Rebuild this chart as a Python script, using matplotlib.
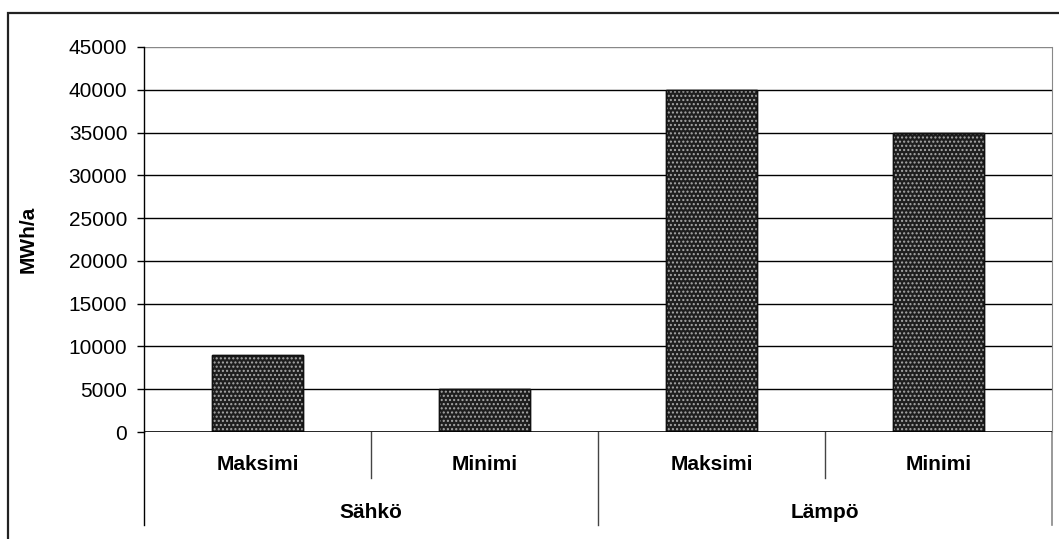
import matplotlib.pyplot as plt
import matplotlib.transforms as mtransforms
from matplotlib.patches import Rectangle

plt.rcParams['font.family'] = ['Liberation Sans', 'DejaVu Sans']
plt.rcParams['hatch.linewidth'] = 1.0

groups = ['Sähkö', 'Lämpö']
subcats = ['Maksimi', 'Minimi', 'Maksimi', 'Minimi']
values = [9000, 5000, 40000, 35000]
yticks = [0, 5000, 10000, 15000, 20000, 25000, 30000, 35000, 40000, 45000]

fig = plt.figure(figsize=(10.59, 5.39), dpi=100)
ax = fig.add_axes([144/1059, 1 - 432/539, (1052 - 144)/1059, (432 - 47)/539])

# outer chart frame
fig.patches.append(Rectangle((8/1059, -0.1), 1.2, 1 - 13/539 + 0.1,
                             transform=fig.transFigure, fill=False,
                             edgecolor='#222222', lw=1.6))

x = list(range(len(values)))
ax.bar(x, values, width=0.4, color='#1e1e1e', edgecolor='black', lw=1, zorder=3)
ax.bar(x, values, width=0.4, fill=False, hatch='....', edgecolor='#a8a8a8', lw=0, zorder=4)
ax.bar(x, values, width=0.4, fill=False, edgecolor='#111111', lw=1, zorder=5)

ax.set_xlim(-0.5, len(values) - 0.5)
ax.set_ylim(0, 45000)
ax.set_yticks(yticks)
ax.set_yticklabels([str(v) for v in yticks], fontsize=15)
ax.tick_params(axis='y', length=5, width=1, pad=7, direction='out')
ax.set_xticks([])
for v in yticks[1:]:
    ax.axhline(v, color='black' if v < 45000 else '#888888', lw=1, zorder=1)

ax.spines['top'].set_visible(False)
ax.spines['right'].set_color('#888888')
ax.spines['bottom'].set_visible(False)
ax.spines['left'].set_linewidth(1)
ax.axhline(0, color='black', lw=1.2, zorder=6)

ax.set_ylabel('MWh/a', fontsize=15, fontweight='bold')
ax.yaxis.set_label_coords(-106/908, 0.5)

# two-level category axis below the plot
trans = mtransforms.blended_transform_factory(ax.transData, ax.transAxes)
ax.plot([-0.5, -0.5], [0, -0.242], color='black', lw=1, transform=trans, clip_on=False)
for i in range(1, len(values)):
    low = -0.242 if i % 2 == 0 else -0.119
    ax.plot([i - 0.5, i - 0.5], [0, low], color='#444444', lw=1, transform=trans, clip_on=False)
ax.plot([len(values) - 0.5] * 2, [0, -0.242], color='#888888', lw=1.2,
        transform=trans, clip_on=False)

for i, name in enumerate(subcats):
    ax.text(i, -0.085, name, transform=trans, ha='center', va='center',
            fontsize=15, fontweight='bold')
for j, name in enumerate(groups):
    ax.text(2 * j + 0.5, -0.208, name, transform=trans, ha='center', va='center',
            fontsize=15, fontweight='bold')

fig.savefig('out.png', dpi=100)
